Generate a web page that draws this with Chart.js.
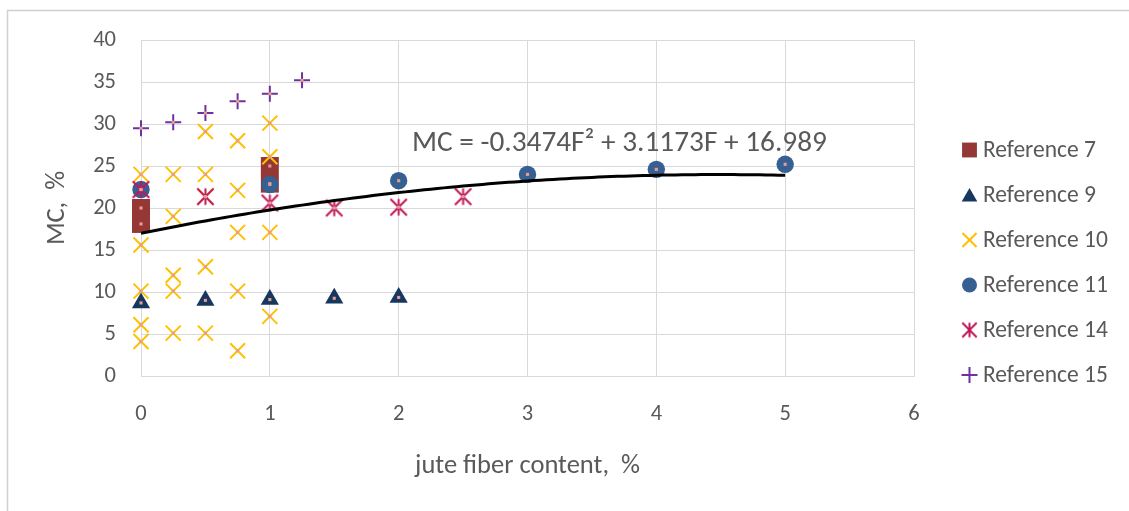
<!DOCTYPE html>
<html>
<head>
<meta charset="utf-8">
<script src="https://cdn.jsdelivr.net/npm/chart.js@4/dist/chart.umd.min.js"></script>
<style>
  html, body { margin: 0; padding: 0; background: #fff; }
  canvas { display: block; }
</style>
</head>
<body>
<canvas id="chart" width="1129" height="511"></canvas>
<script>
// ---- data -------------------------------------------------------------
const xTickValues = [0, 1, 2, 3, 4, 5, 6];
const yTickValues = [0, 5, 10, 15, 20, 25, 30, 35, 40];

const ref7X = [0, 0, 1, 1];
const ref7Y = [20.0, 18.1, 25.0, 22.9];

const ref9X = [0, 0.5, 1, 1.5, 2];
const ref9Y = [8.7, 9.0, 9.1, 9.25, 9.35];

const ref10X = [0, 0, 0, 0, 0,
                0.25, 0.25, 0.25, 0.25, 0.25,
                0.5, 0.5, 0.5, 0.5, 0.5,
                0.75, 0.75, 0.75, 0.75, 0.75,
                1, 1, 1, 1];
const ref10Y = [24.0, 15.6, 10.1, 6.1, 4.1,
                24.0, 19.0, 12.0, 10.1, 5.1,
                29.1, 24.0, 21.35, 13.0, 5.1,
                28.0, 22.1, 17.1, 10.1, 3.0,
                30.1, 26.1, 17.1, 7.1];

const ref11X = [0, 1, 2, 3, 4, 5];
const ref11Y = [22.2, 22.8, 23.25, 24.0, 24.6, 25.2];

const ref14X = [0, 0.5, 1, 1.5, 2, 2.5];
const ref14Y = [22.2, 21.35, 20.6, 20.0, 20.1, 21.35];

const ref15X = [0, 0.25, 0.5, 0.75, 1, 1.25];
const ref15Y = [29.5, 30.2, 31.3, 32.7, 33.6, 35.2];

// quadratic trend: MC = a*F^2 + b*F + c, over F = 0..5
const trendCoef = [-0.3474, 3.1173, 16.989];
const trendRange = [0, 5];

const seriesLabels = ['Reference 7', 'Reference 9', 'Reference 10',
                      'Reference 11', 'Reference 14', 'Reference 15'];
const xTitle = 'jute fiber content,  %';
const yTitle = 'MC,  %';

// ---- styling ----------------------------------------------------------
const FONT = "Carlito, Lato, 'Noto Sans', sans-serif";
const TEXT = '#595959';
const GRID = '#d9d9d9';

const pts = (xs, ys) => xs.map((x, i) => ({ x, y: ys[i] }));

// six-spoke asterisk marker (an X with a shorter vertical bar)
function makeStar(color, half, lw) {
  const s = Math.ceil(2 * half + lw + 4);
  const c = document.createElement('canvas');
  c.width = s; c.height = s;
  const g = c.getContext('2d');
  const m = s / 2;
  g.strokeStyle = color; g.lineWidth = lw;
  g.beginPath();
  g.moveTo(m - half, m - half); g.lineTo(m + half, m + half);
  g.moveTo(m + half, m - half); g.lineTo(m - half, m + half);
  g.moveTo(m, m - half); g.lineTo(m, m + half);
  g.stroke();
  return c;
}
const starMarker = makeStar('#C0185A', 8.2, 2);
const starLegend = makeStar('#C0185A', 7.2, 2);

function trendPoints() {
  const out = [];
  const [a, b, c] = trendCoef;
  for (let i = 0; i <= 100; i++) {
    const f = trendRange[0] + (trendRange[1] - trendRange[0]) * i / 100;
    out.push({ x: f, y: a * f * f + b * f + c });
  }
  return out;
}
const equationText = 'MC = ' + trendCoef[0] + 'F\u00B2 + ' + trendCoef[1] + 'F + ' + trendCoef[2];

const allX = [].concat(ref7X, ref9X, ref10X, ref11X, ref14X, ref15X);
const allY = [].concat(ref7Y, ref9Y, ref10Y, ref11Y, ref14Y, ref15Y);

const datasets = [
  { label: seriesLabels[0], data: pts(ref7X, ref7Y), pointStyle: 'rect', pointRadius: 12.7,
    backgroundColor: '#953735', borderColor: '#953735', borderWidth: 0, order: 8, clip: false,
    legendStyle: 'rect', legendRadius: 10.5 },
  { label: seriesLabels[1], data: pts(ref9X, ref9Y), pointStyle: 'triangle', pointRadius: 10.5,
    backgroundColor: '#17375E', borderColor: '#17375E', borderWidth: 0, order: 7, clip: false,
    legendStyle: 'triangle', legendRadius: 9 },
  { label: seriesLabels[2], data: pts(ref10X, ref10Y), pointStyle: 'crossRot', pointRadius: 10.6,
    backgroundColor: '#FFC000', borderColor: '#FFC000', borderWidth: 2, order: 6, clip: false,
    legendStyle: 'crossRot', legendRadius: 10 },
  { label: seriesLabels[3], data: pts(ref11X, ref11Y), pointStyle: 'circle', pointRadius: 8.7,
    backgroundColor: '#376092', borderColor: '#376092', borderWidth: 0, order: 5, clip: false,
    legendStyle: 'circle', legendRadius: 7.5 },
  { label: seriesLabels[4], data: pts(ref14X, ref14Y), pointStyle: starMarker, pointRadius: 9,
    backgroundColor: '#C0185A', borderColor: '#C0185A', borderWidth: 2, order: 4, clip: false,
    legendStyle: starLegend, legendRadius: 8 },
  { label: seriesLabels[5], data: pts(ref15X, ref15Y), pointStyle: 'cross', pointRadius: 8,
    backgroundColor: '#7030A0', borderColor: '#7030A0', borderWidth: 2, order: 3, clip: false,
    legendStyle: 'cross', legendRadius: 8 },
  { label: 'trend', data: trendPoints(), type: 'line', showLine: true, pointRadius: 0,
    borderColor: '#000000', borderWidth: 3, fill: false, tension: 0, order: 2, noLegend: true },
  { label: 'centres', data: pts(allX, allY), pointStyle: 'rect', pointRadius: 2.2,
    backgroundColor: '#E39C96', borderColor: '#E39C96', borderWidth: 0, order: 1, clip: false,
    noLegend: true }
];

// thin frame around the chart
const framePlugin = {
  id: 'frame',
  beforeDraw(chart) {
    const ctx = chart.ctx;
    ctx.save();
    ctx.fillStyle = '#fff';
    ctx.fillRect(0, 0, chart.width, chart.height);
    ctx.strokeStyle = '#d0d0d0';
    ctx.lineWidth = 1.5;
    ctx.beginPath();
    ctx.moveTo(7.5, chart.height + 2);
    ctx.lineTo(7.5, 10.5);
    ctx.lineTo(chart.width + 2, 10.5);
    ctx.stroke();
    ctx.restore();
  }
};

// legend on the right plus the trend equation
const legendPlugin = {
  id: 'sideLegend',
  afterDraw(chart) {
    const ctx = chart.ctx;
    const items = chart.data.datasets.filter(d => !d.noLegend);
    const mx = 969.5, y0 = 150, step = 45;
    ctx.save();
    items.forEach((d, i) => {
      const y = y0 + i * step;
      ctx.fillStyle = d.backgroundColor;
      ctx.strokeStyle = d.borderColor;
      ctx.lineWidth = d.borderWidth || 0;
      Chart.helpers.drawPoint(ctx, {
        pointStyle: d.legendStyle, radius: d.legendRadius, rotation: 0,
        borderWidth: d.borderWidth || 0
      }, mx, d.legendStyle === 'triangle' ? y + 2 : y);
    });
    ctx.restore();

    ctx.save();
    ctx.font = '23.5px ' + FONT;
    ctx.textBaseline = 'middle';
    ctx.fillStyle = TEXT;
    items.forEach((d, i) => ctx.fillText(d.label, 983, y0 + i * step + 1));
    ctx.font = '29.3px ' + FONT;
    ctx.textBaseline = 'alphabetic';
    ctx.fillText(equationText, 412, 151);
    ctx.restore();
  }
};

new Chart(document.getElementById('chart'), {
  type: 'scatter',
  data: { datasets },
  options: {
    responsive: false,
    animation: false,
    devicePixelRatio: 1,
    layout: { padding: { top: 40, right: 215, bottom: 0, left: 0 } },
    plugins: { legend: { display: false }, tooltip: { enabled: false } },
    scales: {
      x: {
        type: 'linear', min: 0, max: 6,
        afterBuildTicks: s => { s.ticks = xTickValues.map(v => ({ value: v })); },
        afterFit: s => { s.height = 135; },
        grid: { color: GRID, lineWidth: 1, drawTicks: false },
        border: { color: GRID, width: 1 },
        ticks: { padding: 24.5, color: TEXT, font: { family: FONT, size: 22.5 } },
        title: { display: true, text: xTitle, color: TEXT,
                 font: { family: FONT, size: 26.5 }, padding: { top: 0, bottom: 29 } }
      },
      y: {
        type: 'linear', min: 0, max: 40,
        afterBuildTicks: s => { s.ticks = yTickValues.map(v => ({ value: v })); },
        afterFit: s => { s.width = 141; },
        grid: { color: GRID, lineWidth: 1, drawTicks: false },
        border: { color: GRID, width: 1 },
        ticks: { padding: 25, color: TEXT, font: { family: FONT, size: 22.5 } },
        title: { display: true, text: yTitle, color: TEXT,
                 font: { family: FONT, size: 26.5 }, padding: { top: 41, bottom: 0 } }
      }
    }
  },
  plugins: [framePlugin, legendPlugin]
});
</script>
</body>
</html>
